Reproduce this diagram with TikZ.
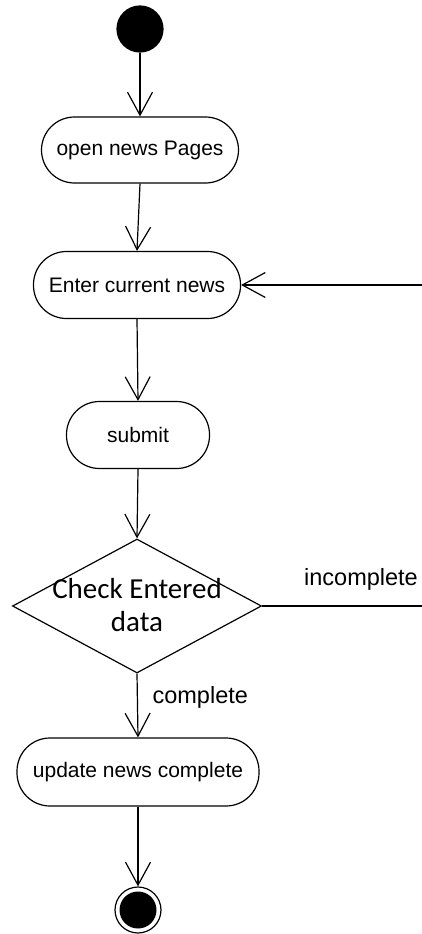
\documentclass[tikz,border=0pt]{standalone}
\usepackage{fontspec}
\setmainfont{Liberation Sans}
\newfontfamily\calibrilike{Carlito}
\usetikzlibrary{shapes.geometric,arrows.meta}

\begin{document}
\begin{tikzpicture}[x=1pt,y=-1pt,
  line width=1.2pt,
  openarrow/.style={-{Straight Barb[length=23pt,width=25pt,line width=1.2pt]}},
  activity/.style={draw,rectangle,rounded corners=33pt,inner sep=0pt,
    font=\fontsize{21}{25}\selectfont},
  guard/.style={font=\fontsize{23.5}{27}\selectfont,inner sep=0pt},
]
\useasboundingbox (0,0) rectangle (422,934);

% start and end states
\node (start) [circle,fill=black,draw=black,minimum size=46pt,inner sep=0pt] at (140,29) {};
\node (stop) [circle,draw=black,line width=1.2pt,minimum size=46pt,inner sep=0pt] at (138,910) {};
\fill (stop.center) circle (18.5pt);

% activities
\node (open) [activity,minimum width=197pt,minimum height=66pt] at (140,150) {open news Pages};
\node (enter) [activity,minimum width=207pt,minimum height=67pt] at (137,285) {Enter current news};
\node (submit) [activity,minimum width=143pt,minimum height=67pt] at (138,435) {submit};
\node (update) [activity,minimum width=242pt,minimum height=68pt] at (138,772) {update news complete};

% decision
\node (check) [diamond,draw,minimum width=249pt,minimum height=134pt,inner sep=0pt] at (137,606) {};
\node (checktext) [align=center,inner sep=0pt,font=\calibrilike\fontsize{29}{33}\selectfont] at (137,605) {Check Entered\\data};

% loop-back ends at the right margin
\coordinate (outA) at (422,606);
\coordinate (outB) at (422,285);

% flows
\draw[openarrow] (start.south) -- (open.north);
\draw[openarrow] (open.south) -- (enter.north);
\draw[openarrow] (enter.south) -- (submit.north);
\draw[openarrow] (submit.south) -- (check.north);
\draw[openarrow] (check.south) -- (update.north);
\draw[openarrow] (update.south) -- (stop.north);
\draw (check.east) -- (outA);
\draw[openarrow] (outB) -- (enter.east);

% guards
\node (lblinc) [guard] at (361,579) {incomplete};
\node (lblcomp) [guard,anchor=west] at (152,697) {complete};
\end{tikzpicture}
\end{document}
